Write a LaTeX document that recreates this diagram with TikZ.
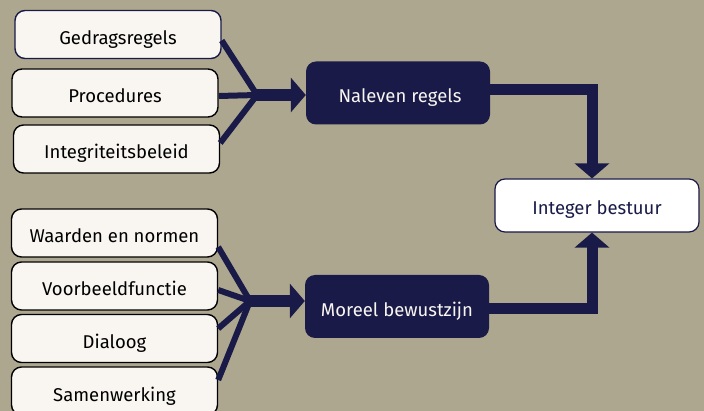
\documentclass[tikz,border=0pt]{standalone}
\usepackage{fontspec}
\setmainfont{Fira Sans}
\usepackage{tikz}
\usetikzlibrary{arrows.meta}
\usetikzlibrary{positioning}

\definecolor{bgtan}{HTML}{AEA78F}
\definecolor{navy}{HTML}{191A48}
\definecolor{offwhite}{HTML}{F9F6F1}

\begin{document}
\begin{tikzpicture}[x=1pt,y=-1pt]
    \tikzstyle{every node}=[font=\fontsize{18.5}{20}\selectfont,text height=20pt,text depth=0pt]
    \tikzstyle{factor}=[draw=black,line width=1.4pt,fill=offwhite,rounded corners=10pt,
      minimum width=206pt,minimum height=48pt,inner sep=0pt]
    \tikzstyle{pillar}=[fill=navy,rounded corners=10pt,text=offwhite,
      minimum width=184pt,minimum height=63pt,inner sep=0pt]
    \tikzstyle{spoke}=[navy,line width=6pt]
    \tikzstyle{flow}=[navy,line width=12pt,-{Triangle[length=15pt,width=34pt]}]
    \useasboundingbox[fill=bgtan] (0,0) rectangle (704,411);
    % left column, rules
    \node[factor,draw=navy] (gedrag) at (118,34.5) {Gedragsregels};
    \node[factor] (proc) at (115,93) {Procedures};
    \node[factor] (integ) at (116.5,149) {Integriteitsbeleid};
    % left column, morals
    \node[factor] (waarden) at (114.5,233) {Waarden en normen};
    \node[factor] (voorbeeld) at (114.5,286) {Voorbeeldfunctie};
    \node[factor] (dialoog) at (114.5,338.5) {Dialoog};
    \node[factor] (samen) at (114.5,391) {Samenwerking};
    % middle and right
    \node[pillar] (naleven) at (398,93) {\hspace*{4pt}Naleven regels};
    \node[pillar] (moreel) at (397,306.5) {Moreel bewustzijn};
    \node[draw=navy,line width=1.2pt,fill=white,rounded corners=10pt,text=navy,text height=18pt,
      minimum width=204pt,minimum height=53pt,inner sep=0pt] (bestuur) at (597,205.5) {Integer bestuur};
    \coordinate (joinA) at (257,95);
    \coordinate (joinB) at (250,301);
    \draw[spoke] ([yshift=-6pt]gedrag.east) -- (joinA);
    \draw[spoke] ([yshift=-3pt]proc.east) -- (joinA);
    \draw[spoke] ([yshift=6pt]integ.east) -- (joinA);
    \draw[spoke] ([yshift=-14pt]waarden.east) -- (joinB);
    \draw[spoke] ([yshift=-4pt]voorbeeld.east) -- (joinB);
    \draw[spoke] ([yshift=10pt]dialoog.east) -- (joinB);
    \draw[spoke] ([yshift=11pt]samen.east) -- (joinB);
    \draw[flow] ([xshift=-2pt]joinA) -- (naleven.west |- joinA);
    \draw[flow] ([xshift=-2pt]joinB) -- (moreel.west |- joinB);
    \draw[flow,line width=11pt] ([yshift=3pt]naleven.east) -| ([xshift=-5pt]bestuur.north);
    \draw[flow,line width=11pt] ([yshift=-2pt]moreel.east) -| ([xshift=-5pt]bestuur.south);
  \end{tikzpicture}
\end{document}
